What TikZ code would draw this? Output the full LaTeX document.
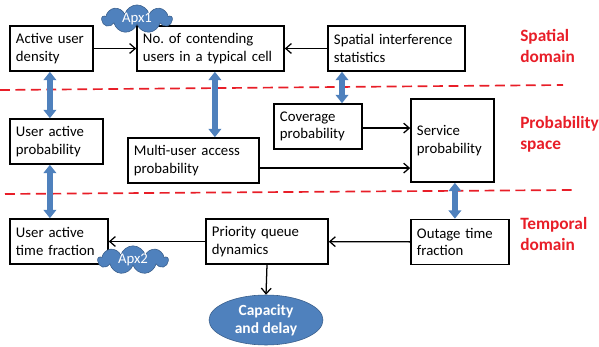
\documentclass[tikz,border=0pt]{standalone}
\usepackage{fontspec}
\setmainfont{Carlito}
\usetikzlibrary{arrows.meta,shapes.geometric,shapes.symbols}
\definecolor{boxblue}{RGB}{79,129,189}
\definecolor{edgeblue}{RGB}{56,93,138}
\definecolor{domred}{RGB}{232,30,40}
\frenchspacing

\begin{document}
\begin{tikzpicture}[x=0.025cm,y=-0.025cm,
    font=\fontsize{10.5}{12.6}\selectfont,
    blk/.style={draw,line width=1.1pt,align=left,inner xsep=0.15cm,minimum height=1.125cm},
    conn/.style={line width=0.9pt,-{Straight Barb[length=4pt,width=7pt]}},
    twoway/.style={line width=4.3pt,draw=boxblue,{Triangle[length=6pt,width=9pt]}-{Triangle[length=6pt,width=9pt]}},
    apx/.style={cloud,cloud puffs=9,aspect=2.8,fill=boxblue,draw=edgeblue,text=white,
        minimum width=1.75cm,minimum height=0.62cm,inner sep=0pt},
    dom/.style={anchor=west,align=left,text=domred,font=\fontsize{12.3}{15}\selectfont\bfseries},
    split/.style={draw=domred,line width=1.2pt,dash pattern=on 7pt off 4pt}]
  \useasboundingbox (0,0) rectangle (599,347);

  % spatial domain
  \node[blk,text width=1.775cm] (aud) at (51.5,48.5) {Active user\\density};
  \node[blk,text width=3.375cm] (nocu) at (210.5,48.5) {No. of contending\\users in a typical cell};
  \node[blk,text width=3.125cm] (sis) at (396.5,48.5) {Spatial interference\\statistics};
  \node[apx] (apx1) at (137,19) {Apx1};

  % probability space
  \node[blk,text width=2.025cm] (uap) at (56.5,141.5) {User active\\probability};
  \node[blk,text width=2.975cm] (mua) at (193.5,160.5) {Multi-user access\\probability};
  \node[blk,text width=1.9cm] (cov) at (318,126.5) {Coverage\\probability};
  \node[blk,text width=1.775cm,minimum height=2.075cm] (sp) at (452.5,140.5) {Service\\probability};

  % temporal domain
  \node[blk,text width=2.15cm] (uatf) at (59,241.5) {User active\\time fraction};
  \node[blk,text width=2.75cm] (pqd) at (267,241.5) {Priority queue\\dynamics};
  \node[blk,text width=2.15cm] (otf) at (460,242) {Outage time\\fraction};
  \node[apx] (apx2) at (133,260) {Apx2};
  \node[ellipse,fill=boxblue,draw=edgeblue,text=white,align=center,inner sep=0pt,
        minimum width=2.85cm,minimum height=1.25cm,font=\fontsize{11}{13}\selectfont\bfseries]
        (cd) at (266,320) {Capacity\\and delay};

  \node[dom,inner xsep=0pt] (lspat) at (520,46) {Spatial\\domain};
  \node[dom,inner xsep=0pt] (lprob) at (520,134) {Probability\\space};
  \node[dom,inner xsep=0pt] (ltemp) at (520,234) {Temporal\\domain};

  \draw[split] (0,90) -- (563,85);
  \draw[split] (5,194) -- (573,190);

  \draw[conn] (aud) -- (nocu);
  \draw[conn] (sis) -- (nocu);
  \draw[conn] ([yshift=-0.04cm]cov.east) -- ([yshift=-0.04cm]cov.east -| sp.west);
  \draw[conn] ([yshift=-0.19cm]mua.east) -- ([yshift=-0.19cm]mua.east -| sp.west);
  \draw[conn] (otf) -- (pqd);
  \draw[conn] (pqd) -- (uatf);
  \draw[conn] (pqd.south) -- (cd.north);

  \draw[twoway] ([xshift=-0.04cm]aud.south) -- ([xshift=-0.04cm]aud.south |- uap.north);
  \draw[twoway] ([xshift=-0.04cm]aud.south |- uap.south) -- ([xshift=-0.04cm]aud.south |- uatf.north);
  \draw[twoway] ([xshift=0.11cm]nocu.south) -- ([xshift=0.11cm]nocu.south |- mua.north);
  \draw[twoway] ([xshift=0.6cm]cov.north |- sis.south) -- ([xshift=0.6cm]cov.north);
  \draw[twoway] ([xshift=0.06cm]sp.south) -- ([xshift=0.06cm]sp.south |- otf.north);
\end{tikzpicture}
\end{document}
